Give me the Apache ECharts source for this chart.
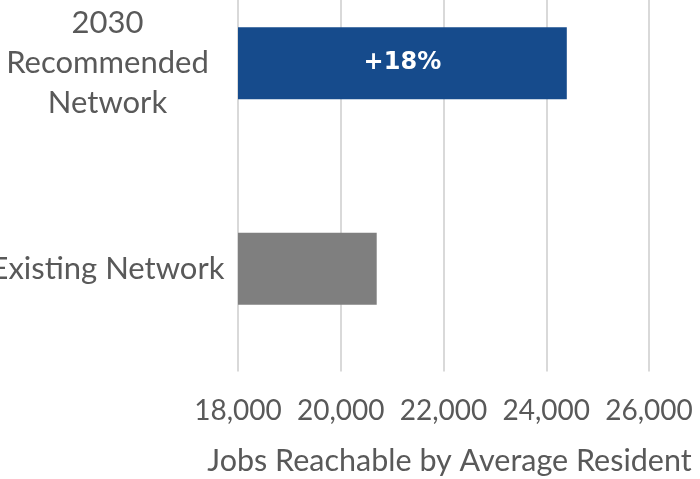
<!DOCTYPE html>
<html>
<head>
<meta charset="utf-8">
<script src="https://cdn.jsdelivr.net/npm/echarts@6/dist/echarts.min.js"></script>
<style>html,body{margin:0;padding:0;background:#fff;overflow:hidden}#c{position:absolute;left:0;top:-40px;width:700px;height:519px}</style>
</head>
<body>
<div id="c"></div>
<script>
const categories = ['Existing Network', '2030\nRecommended\nNetwork'];
const values = [20700, 24400];
const barLabels = ['', '+18%'];
const barColors = ['#7F7F7F', '#164B8C'];
const xMin = 18000, xMax = 26000, xStep = 2000;

const chart = echarts.init(document.getElementById('c'));
chart.setOption({
  animation: false,
  textStyle: { fontFamily: 'Lato' },
  grid: { left: 238, right: 51, top: 0.5, bottom: 107.5, containLabel: false, outerBoundsMode: 'none' },
  xAxis: {
    type: 'value', min: xMin, max: xMax, interval: xStep,
    axisLine: { show: false }, axisTick: { show: false },
    splitLine: { show: true, lineStyle: { color: '#D9D9D9', width: 2 } },
    axisLabel: {
      color: '#595959', fontSize: 28, fontFamily: 'Lato', margin: 25,
      formatter: v => v.toLocaleString('en-US')
    },
    name: 'Jobs Reachable by Average Resident',
    nameLocation: 'middle', nameGap: 74,
    nameTextStyle: { color: '#595959', fontSize: 30.5, fontFamily: 'Lato', padding: [0, 0, 0, 12] }
  },
  yAxis: {
    type: 'category', data: categories,
    axisLine: { show: false }, axisTick: { show: false },
    axisLabel: {
      color: '#595959', fontSize: 31, fontFamily: 'Lato', lineHeight: 40,
      align: 'center', margin: 130.5
    }
  },
  series: [{
    type: 'bar', barWidth: '35%',
    data: values.map((v, i) => ({ value: v, itemStyle: { color: barColors[i] } })),
    label: {
      show: true, position: 'inside', color: '#fff', fontSize: 24, fontWeight: 'bold',
      fontFamily: 'DejaVu Sans', formatter: p => barLabels[p.dataIndex]
    }
  }]
});
</script>
</body>
</html>
